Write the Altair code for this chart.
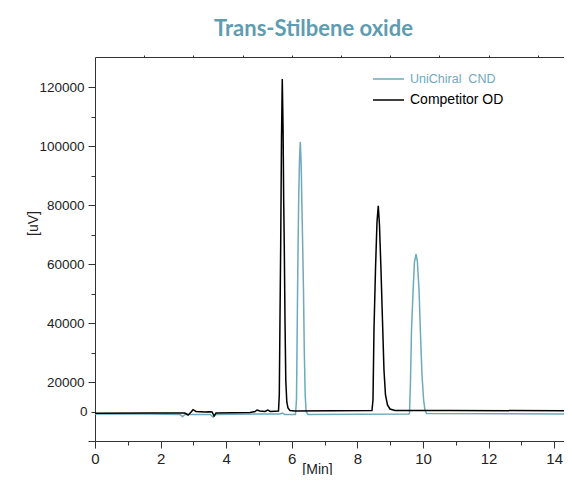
import altair as alt
import pandas as pd

# ---- data ----
# y values are in the plot's linear axis units (gridline labels 20000..120000);
# the reference prints its "0" label at the 10000 tick.
series_names = ["UniChiral\u00a0 CND", "Competitor OD"]

black_t = [0.00, 1.68, 2.74, 2.84, 2.93, 2.99, 3.08, 3.35, 3.51, 3.57, 3.63, 3.69,
           4.73, 4.88, 4.94, 5.03, 5.18, 5.27, 5.34, 5.595, 5.619, 5.64, 5.662,
           5.686, 5.71, 5.735, 5.753, 5.771, 5.793, 5.817, 5.848, 5.884, 5.945,
           6.10, 8.445, 8.476, 8.506, 8.552, 8.598, 8.637, 8.674, 8.72, 8.765,
           8.811, 8.857, 8.918, 8.994, 9.146, 10.82, 15.0]
black_y = [9390, 9490, 9490, 8810, 9830, 10610, 10000, 9830, 9930, 9830, 8470, 9490,
           9660, 10000, 10510, 10170, 10000, 10510, 10000, 10170, 15590, 41020, 66440,
           102030, 122710, 105420, 81690, 66440, 41020, 20680, 13220, 11190, 10340,
           10170, 10340, 13900, 37630, 57970, 74240, 79760, 73220, 57970, 41020,
           24070, 15590, 12200, 10850, 10340, 10340, 10240]

blue_t = [0.00, 1.68, 2.59, 2.67, 2.74, 3.51, 3.60, 3.69, 5.03, 5.64, 5.72, 5.79,
          6.113, 6.143, 6.165, 6.183, 6.21, 6.235, 6.259, 6.287, 6.311, 6.335,
          6.357, 6.381, 6.409, 6.439, 6.494, 9.57, 9.59, 9.62, 9.65, 9.70, 9.74,
          9.79, 9.83, 9.88, 9.92, 9.97, 10.02, 10.06, 10.11, 15.0]
blue_y = [9150, 9150, 8980, 8240, 8980, 8980, 8140, 8980, 9150, 9150, 9490, 8980,
          8980, 13900, 37630, 57970, 81690, 95250, 101460, 93560, 78300, 64750,
          51190, 30850, 15590, 9830, 8980, 9150, 9490, 20680, 37630, 51190, 60680,
          63390, 60680, 51190, 37630, 22370, 13900, 10510, 9320, 9150]

y_ticks = [0, 10000, 20000, 30000, 40000, 50000, 60000, 70000, 80000, 90000,
           100000, 110000, 120000]
x_ticks = list(range(0, 15))
top_ticks = [1.5, 3.0, 4.5, 6.0, 7.5, 9.0, 10.5, 12.0, 13.5]
x_max = 14.3  # visible right end of the time axis

teal = "#6ea9bd"
title_teal = "#5e9cb2"

df_blue = pd.DataFrame({"t": blue_t, "y": blue_y, "s": series_names[0]})
df_black = pd.DataFrame({"t": black_t, "y": black_y, "s": series_names[1]})

FONT = "Liberation Sans, Arial"

xscale = alt.Scale(domain=[0, x_max], nice=False, zero=False)
yscale = alt.Scale(domain=[0, 130170], nice=False, zero=False)
cscale = alt.Scale(domain=series_names, range=[teal, "black"])

x_axis = alt.Axis(
    values=x_ticks, format="d", title="[Min]",
    labelExpr="datum.value % 2 == 0 ? datum.label : ''",
    tickSize={"condition": {"test": "datum.value % 2 == 0", "value": 7}, "value": 4},
    titleX=222, titleY=21, titleAnchor="start", titleAlign="center", titleBaseline="top",
    titleFontWeight="normal", titleFont=FONT, titleFontSize=14, titleColor="#222",
    labelFont=FONT, labelFontSize=15, labelPadding=3, labelColor="#222",
    labelOverlap=False, labelFlush=False,
    grid=False, domainColor="#333", tickColor="#333",
)
y_axis = alt.Axis(
    values=y_ticks, format="d", title="[uV]",
    labelExpr="(datum.value > 5000 && datum.value < 15000) ? '0' : ((datum.value > 0 && datum.value % 20000 == 0) ? format(datum.value, 'd') : '')",
    tickSize={"condition": {"test": "datum.value % 20000 == 0", "value": 7}, "value": 4},
    titleX=-62, titleY=166, titleAnchor="start", titleAlign="center", titleBaseline="middle",
    titleFontWeight="normal", titleFont=FONT, titleFontSize=14, titleColor="#222",
    labelFont=FONT, labelFontSize=13.5, labelPadding=4, labelColor="#222",
    labelOverlap=False, labelFlush=False, labelBound=False,
    grid=False, domainColor="#333", tickColor="#333",
)

legend = alt.Legend(
    title=None, orient="none", legendX=277, legendY=11.5,
    symbolType="stroke", symbolSize=961, symbolStrokeWidth=1.4,
    clipHeight=21, rowPadding=0, labelOffset=5,
    labelFont=FONT,
    labelFontSize={"expr": "datum.label == 'Competitor OD' ? 14 : 12.5"},
    labelColor={"expr": "datum.label == 'Competitor OD' ? 'black' : '" + teal + "'"},
)

blue_line = alt.Chart(df_blue).mark_line(strokeWidth=1.5, clip=True).encode(
    x=alt.X("t:Q", scale=xscale, axis=x_axis),
    y=alt.Y("y:Q", scale=yscale, axis=y_axis),
    color=alt.Color("s:N", scale=cscale, legend=legend),
)
black_line = alt.Chart(df_black).mark_line(strokeWidth=1.5, clip=True).encode(
    x=alt.X("t:Q", scale=xscale, axis=x_axis),
    y=alt.Y("y:Q", scale=yscale, axis=y_axis),
    color=alt.Color("s:N", scale=cscale),
)
lines = alt.layer(blue_line, black_line)

top_axis_layer = alt.Chart(pd.DataFrame({"t": top_ticks})).mark_rule(opacity=0).encode(
    x=alt.X("t:Q", scale=xscale,
            axis=alt.Axis(orient="top", values=top_ticks, labels=False, title=None,
                          tickSize=2, domain=True, grid=False,
                          tickColor="#333", domainColor="#333")),
)

chart = alt.layer(lines, top_axis_layer).resolve_axis(
    x="independent"
).properties(
    width=469, height=384,
    autosize=alt.AutoSizeParams(type="none"),
    padding={"left": 87, "top": 49, "right": 0, "bottom": 34},
    title=alt.TitleParams(
        "Trans-Stilbene oxide", font="Lato", fontSize=22, fontWeight="bold",
        color=title_teal, anchor="middle", frame="group", baseline="alphabetic",
        offset=1, dx=-16, dy=4,
    ),
).configure_axis(labelOverlap=False).configure_view(stroke=None).configure(background="white")

chart.save("out.html", embed_options={"renderer": "svg", "actions": False})
